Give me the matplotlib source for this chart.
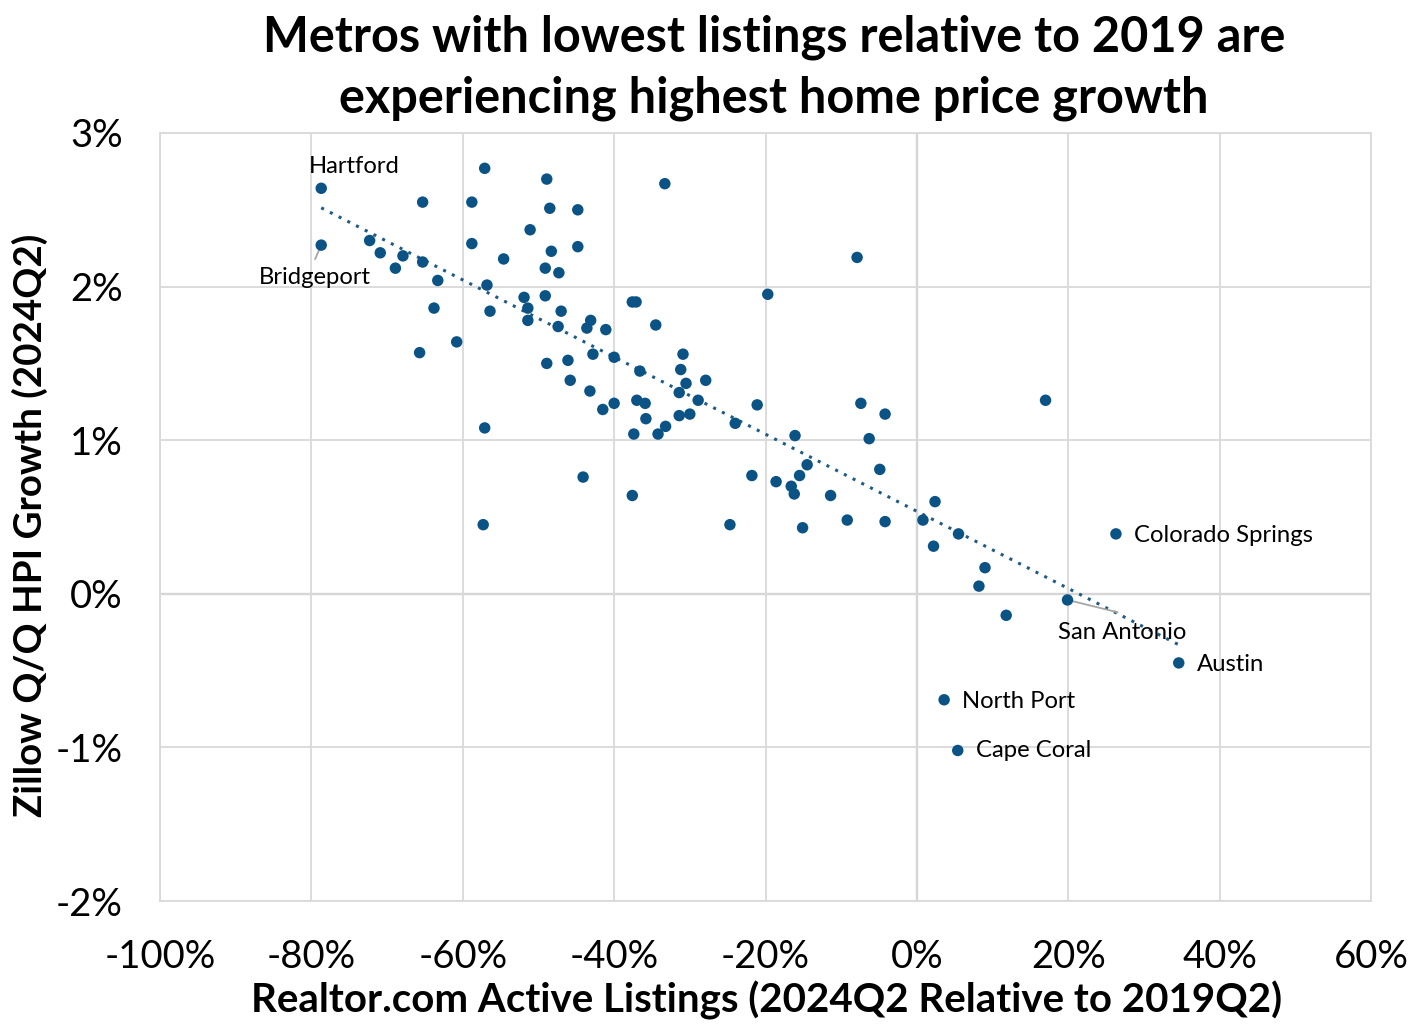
import numpy as np
import matplotlib
matplotlib.use("Agg")
import matplotlib.pyplot as plt
from matplotlib.ticker import FuncFormatter

# Realtor.com active listings, 2024Q2 relative to 2019Q2 (%)
listings = [
    -78.7, -78.7, -72.3, -70.9, -68.9, -67.9, -65.3, -65.3, -63.8, -63.3,
    -65.7, -60.8, -58.8, -58.8, -57.1, -56.8, -56.4, -57.1, -57.3, -54.6,
    -51.9, -51.4, -51.4, -51.1, -48.9, -48.5, -48.3, -49.1, -49.1, -47.3,
    -47.0, -47.4, -48.9, -44.8, -44.8, -46.1, -45.8, -44.1, -43.6, -43.1,
    -42.8, -43.2, -41.1, -41.5, -40.0, -40.0, -33.3, -7.9, -19.7, -37.6,
    -37.1, -34.5, -36.6, -30.9, -31.2, -30.5, -27.9, -37.0, -35.9, -31.4,
    -28.9, -35.8, -31.4, -30.0, -37.4, -34.2, -33.2, -24.0, -21.1, -16.1,
    -7.4, -4.2, -6.3, -37.6, -21.8, -18.6, -16.6, -16.2, -15.5, -14.5,
    -11.4, -4.9, -24.7, -15.1, -9.2, -4.2, 0.8, 2.4, 17.0, 5.5,
    2.2, 9.0, 8.2, 11.8, 19.9, 26.3, 34.6, 3.6, 5.4,
]
# Zillow Q/Q HPI growth, 2024Q2 (%)
hpi = [
    2.64, 2.27, 2.30, 2.22, 2.12, 2.20, 2.55, 2.16, 1.86, 2.04,
    1.57, 1.64, 2.55, 2.28, 2.77, 2.01, 1.84, 1.08, 0.45, 2.18,
    1.93, 1.86, 1.78, 2.37, 2.70, 2.51, 2.23, 2.12, 1.94, 2.09,
    1.84, 1.74, 1.50, 2.50, 2.26, 1.52, 1.39, 0.76, 1.73, 1.78,
    1.56, 1.32, 1.72, 1.20, 1.54, 1.24, 2.67, 2.19, 1.95, 1.90,
    1.90, 1.75, 1.45, 1.56, 1.46, 1.37, 1.39, 1.26, 1.24, 1.31,
    1.26, 1.14, 1.16, 1.17, 1.04, 1.04, 1.09, 1.11, 1.23, 1.03,
    1.24, 1.17, 1.01, 0.64, 0.77, 0.73, 0.70, 0.65, 0.77, 0.84,
    0.64, 0.81, 0.45, 0.43, 0.48, 0.47, 0.48, 0.60, 1.26, 0.39,
    0.31, 0.17, 0.05, -0.14, -0.04, 0.39, -0.45, -0.69, -1.02,
]

label_names = ["Hartford", "Bridgeport", "Colorado Springs", "San Antonio",
               "Austin", "North Port", "Cape Coral"]
label_index = [0, 1, 95, 94, 96, 97, 98]
label_pos = [(-80.3, 2.78), (-86.9, 2.06), (28.7, 0.38), (18.6, -0.25),
             (37.0, -0.46), (5.9, -0.70), (7.8, -1.02)]
leader = {"Bridgeport": (-79.5, 2.18), "San Antonio": (26.5, -0.12)}

x_ticks = [-100, -80, -60, -40, -20, 0, 20, 40, 60]
y_ticks = [-2, -1, 0, 1, 2, 3]

plt.rcParams['font.family'] = ['Lato', 'DejaVu Sans']

fig = plt.figure(figsize=(14.23, 10.30), dpi=100)
ax = fig.add_axes([160/1423, 1-901/1030, (1371-160)/1423, (901-133)/1030])

x = np.array(listings)
y = np.array(hpi)

ax.set_xlim(-100, 60)
ax.set_ylim(-2, 3)
ax.set_xticks(x_ticks)
ax.set_yticks(y_ticks)
ax.grid(True, color='#d9d9d9', linewidth=1.3, zorder=0)
ax.axhline(0, color='#bfbfbf', linewidth=1.6, zorder=1)
ax.axvline(0, color='#bfbfbf', linewidth=1.6, zorder=1)
for s in ax.spines.values():
    s.set_color('#d9d9d9')
    s.set_linewidth(1.3)
ax.tick_params(length=0, labelsize=27.5)
ax.tick_params(axis='x', pad=27)
ax.tick_params(axis='y', pad=27)
ax.xaxis.set_major_formatter(FuncFormatter(lambda v, p: f"{int(v)}%"))
ax.yaxis.set_major_formatter(FuncFormatter(lambda v, p: f"{int(v)}%"))

# trendline
m, b = np.polyfit(x, y, 1)
xt = np.array([x.min(), x.max()])
ax.plot(xt, m*xt + b, linestyle=(0, (1, 2.2)), color='#1f5b85', linewidth=2.2, zorder=2)

ax.scatter(x, y, s=68, color='#0b5285', zorder=3, edgecolors='none')

for name, idx, (tx, ty) in zip(label_names, label_index, label_pos):
    ax.text(tx, ty, name, fontsize=17.2, ha='left', va='center', color='black', zorder=4)
    if name in leader:
        lx, ly = leader[name]
        ax.plot([x[idx], lx], [y[idx], ly], color='#a6a6a6', linewidth=1.3, zorder=2)

fig.text(767/1423, 1-1000/1030, "Realtor.com Active Listings (2024Q2 Relative to 2019Q2)",
         ha='center', va='center', fontsize=29, fontweight='bold')
fig.text(30/1423, 1-525/1030, "Zillow Q/Q HPI Growth (2024Q2)", rotation=90,
         ha='center', va='center', fontsize=27.7, fontweight='bold')
fig.text(774/1423, 1-37/1030, "Metros with lowest listings relative to 2019 are",
         ha='center', va='center', fontsize=35, fontweight='bold')
fig.text(774/1423, 1-98/1030, "experiencing highest home price growth",
         ha='center', va='center', fontsize=35, fontweight='bold')

fig.savefig("out.png", dpi=100)
